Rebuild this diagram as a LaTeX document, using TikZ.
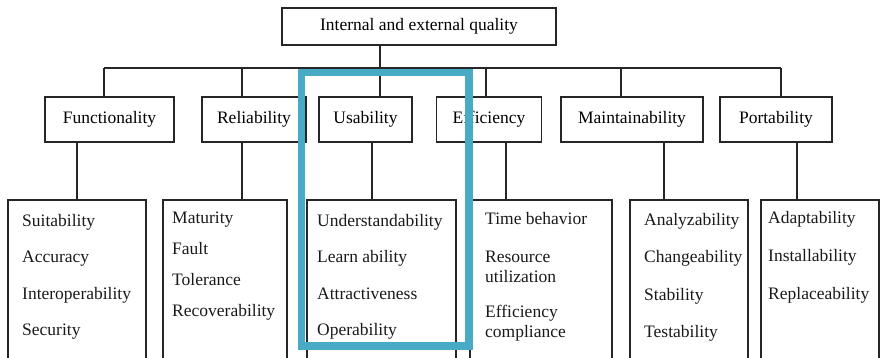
\documentclass[tikz,border=0pt]{standalone}
\usepackage{fontspec}
\setmainfont{Liberation Serif}
\newfontfamily\boxfont{Liberation Serif}
\usetikzlibrary{positioning}

\definecolor{hilite}{RGB}{72,170,196}
\tikzset{
  box/.style={draw=black!85,line width=1.8pt,minimum height=45pt,inner sep=0pt},
  subbox/.style={box,anchor=north west,minimum height=170pt},
  item/.style={anchor=base west,inner sep=0pt,text=black!90},
  link/.style={draw=black!85,line width=1.8pt},
}

\begin{document}
\begin{tikzpicture}[x=1pt,y=-1pt,font=\boxfont\fontsize{17.5}{21}\selectfont]
              \clip(0,0)rectangle(880,357);
              % root and the six characteristics
              \node[box,minimum width=274pt,minimum height=37pt](root)at(419,26.5){Internal and external quality};
              \node[box,minimum width=129pt](fun)at(109.5,119.5){Functionality};
              \node[box,minimum width=104pt](rel)at(254,119.5){Reliability};
              \node[box,minimum width=93pt](usa)at(365.5,119.5){Usability};
              \node[box,minimum width=105pt](eff)at(489,119.5){Efficiency};
              \node[box,minimum width=142pt](mai)at(632,119.5){Maintainability};
              \node[box,minimum width=112pt](por)at(776,119.5){Portability};
              % sub-characteristic boxes, open at the bottom
              \node[subbox,minimum width=138pt](funl)at(7,199){};
              \node[subbox,minimum width=124pt](rell)at(162,199){};
              \node[subbox,minimum width=149pt](usal)at(306,199){};
              \node[subbox,minimum width=142pt](effl)at(469,199){};
              \node[subbox,minimum width=118pt](mail)at(629,199){};
              \node[subbox,minimum width=118pt](porl)at(760,199){};
              % tree lines
              \draw[link]([xshift=-39pt]root.south)--++(0,24);
              \draw[link]([shift={(-5.5,-28)}]fun.north)--([shift={(5,-28)}]por.north);
              \foreach \n/\dx in {fun/-5.5,rel/-12,usa/14.5,eff/-3,mai/-11,por/5}
                \draw[link]([xshift=\dx pt]\n.north)--++(0,-28);
              \foreach \n/\dx in {fun/-32.5,rel/-12,usa/6.5,eff/17,mai/32,por/21}
                \draw[link]([xshift=\dx pt]\n.south)--++(0,57);
              % sub-characteristics
              \foreach \t [count=\i] in {Suitability,Accuracy,Interoperability,Security}
                \node[item](f\i)at(22,189.5+36.5*\i){\t};
              \foreach \t [count=\i] in {Maturity,Fault,Tolerance,Recoverability}
                \node[item](r\i)at(172,192+31*\i){\t};
              \foreach \t [count=\i] in {Understandability,Learn ability,Attractiveness,Operability}
                \node[item](u\i)at(317,189.5+36.5*\i){\t};
              \foreach \t/\y [count=\i] in {Time behavior/224,Resource/262,utilization/282,Efficiency/317,compliance/337}
                \node[item](e\i)at(485,\y){\t};
              \foreach \t [count=\i] in {Analyzability,Changeability,Stability,Testability}
                \node[item](m\i)at(644,187.5+37.5*\i){\t};
              \foreach \t [count=\i] in {Adaptability,Installability,Replaceability}
                \node[item](p\i)at(768,185+38*\i){\t};
              % highlight round usability
              \draw[hilite,line width=7.5pt](301.5,72.5)rectangle(469,346);
            \end{tikzpicture}
\end{document}
